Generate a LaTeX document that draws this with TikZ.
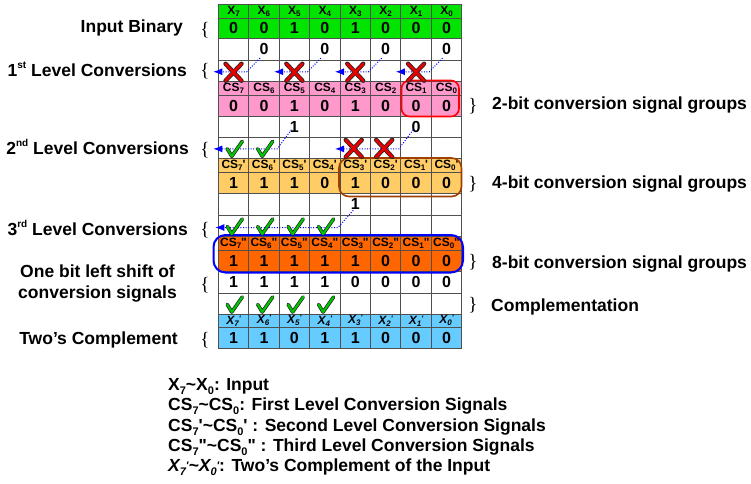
\documentclass[tikz,border=0pt]{standalone}
\usepackage{fontspec}
\usetikzlibrary{arrows.meta,calc}
\newfontfamily\af{Liberation Sans}
\newfontfamily\brfam{Liberation Serif}
\definecolor{cgreen}{RGB}{0,228,0}
\definecolor{cpink}{RGB}{255,153,204}
\definecolor{clorange}{RGB}{255,204,102}
\definecolor{corange}{RGB}{255,102,0}
\definecolor{cblue}{RGB}{102,204,255}
\definecolor{cbrown}{RGB}{160,64,0}
\definecolor{cgrid}{RGB}{80,80,80}
\definecolor{carrow}{RGB}{0,0,255}
\definecolor{ccheck}{RGB}{0,200,0}
\definecolor{cx}{RGB}{230,0,0}
\newcommand\valfont{\af\bfseries\fontsize{16}{16}\selectfont}
\newcommand\labfont{\af\bfseries\fontsize{12}{12}\selectfont}
\newcommand\bigfont{\af\bfseries\fontsize{17.5}{17.5}\selectfont}
\newcommand\brfont{\brfam\fontsize{19}{19}\selectfont}
\newcommand\sbc[1]{\raisebox{-2pt}{\fontsize{8}{8}\selectfont #1}}
\newcommand\sbl[1]{\raisebox{-4pt}{\fontsize{11}{11}\selectfont #1}}
\newcommand\supord[1]{\raisebox{7.5pt}{\fontsize{10}{10}\selectfont #1}}
\newcommand\csl[1]{CS\sbc{#1}}
\newcommand\csp[1]{CS\sbc{#1}'}
\newcommand\cspp[1]{CS\sbc{#1}"}
\newcommand\xlab[1]{X\sbc{#1}}
\newcommand\xplab[1]{\itshape X\sbc{#1}\raisebox{3pt}{\fontsize{8}{8}\selectfont '}}
\newcommand\cellrow[6]{%
  \foreach \t [count=\c from 0] in {#6} {%
    \node[cell, fill=#4, minimum height=#3pt, font=#5] (r#1c\c) at ({218.3+30.43*\c}, #2) {\t};
  }%
}
\begin{document}
\begin{tikzpicture}[x=1pt,y=-1pt,
  cell/.style={draw=cgrid, line width=0.8pt, inner sep=0pt, outer sep=0pt,
    minimum width=30.43pt, anchor=north west},
  lab/.style={font=\bigfont, inner sep=0pt},
  brace/.style={font=\brfont, inner sep=0pt},
  conv/.style={carrow, line width=1pt, dash pattern=on 1pt off 1.6pt,
    -{Latex[length=9pt,width=7pt]}},
  checkmark/.pic={
    \draw[line width=3.6pt, black!85, line cap=round, line join=round]
      (9,-9.5) -- (13.5,-2) -- (24,-17);
    \draw[line width=2.1pt, ccheck, line cap=round, line join=round]
      (9,-9.5) -- (13.5,-2) -- (24,-17);
  },
  xmark/.pic={
    \draw[line width=4.4pt, black!85, line cap=round]
      (-8,-7) -- (8,10) (8,-7) -- (-8,10);
    \draw[line width=2.8pt, cx, line cap=round]
      (-8,-7) -- (8,10) (8,-7) -- (-8,10);
  }]
\path[use as bounding box] (0,0) rectangle (751,483);

% ---------- grid ----------
\cellrow{0}{4}{14.3}{cgreen}{\labfont}{\xlab{7},\xlab{6},\xlab{5},\xlab{4},\xlab{3},\xlab{2},\xlab{1},\xlab{0}}
\cellrow{1}{18.3}{20}{cgreen}{\valfont}{0,0,1,0,1,0,0,0}
\cellrow{2}{38.3}{21.7}{white}{\valfont}{{},0,{},0,{},0,{},0}
\cellrow{3}{60}{21.5}{white}{\valfont}{{},{},{},{},{},{},{},{}}
\cellrow{4}{81.5}{13.5}{cpink}{\labfont}{\csl{7},\csl{6},\csl{5},\csl{4},\csl{3},\csl{2},\csl{1},\csl{0}}
\cellrow{5}{95}{21}{cpink}{\valfont}{0,0,1,0,1,0,0,0}
\cellrow{6}{116}{21.5}{white}{\valfont}{{},{},1,{},{},{},0,{}}
\cellrow{7}{137.5}{20.8}{white}{\valfont}{{},{},{},{},{},{},{},{}}
\cellrow{8}{158.3}{13.7}{clorange}{\labfont}{\csp{7},\csp{6},\csp{5},\csp{4},\csp{3},\csp{2},\csp{1},\csp{0}}
\cellrow{9}{172}{21.5}{clorange}{\valfont}{1,1,1,0,1,0,0,0}
\cellrow{10}{193.5}{21.5}{white}{\valfont}{{},{},{},{},1,{},{},{}}
\cellrow{11}{215}{21}{white}{\valfont}{{},{},{},{},{},{},{},{}}
\cellrow{12}{236}{14}{corange}{\labfont}{\cspp{7},\cspp{6},\cspp{5},\cspp{4},\cspp{3},\cspp{2},\cspp{1},\cspp{0}}
\cellrow{13}{250}{21}{corange}{\valfont}{1,1,1,1,1,0,0,0}
\cellrow{14}{271}{22}{white}{\valfont}{1,1,1,1,0,0,0,0}
\cellrow{15}{293}{21}{white}{\valfont}{{},{},{},{},{},{},{},{}}
\cellrow{16}{314}{13.5}{cblue}{\labfont}{\xplab{7},\xplab{6},\xplab{5},\xplab{4},\xplab{3},\xplab{2},\xplab{1},\xplab{0}}
\cellrow{17}{327.5}{20.5}{cblue}{\valfont}{1,1,0,1,1,0,0,0}

% ---------- group outlines ----------
\draw[red, line width=1.6pt, rounded corners=8pt] (401.5,80.5) rectangle (459,116.5);
\draw[cbrown, line width=1.6pt, rounded corners=10pt] (339,158) rectangle (461.5,196.5);
\draw[blue, line width=2pt, rounded corners=12pt] (213.5,235) rectangle (463,272.5);

% ---------- conversion arrows ----------
\foreach \k/\s/\d in {0/1/0,1/3/2,2/5/4,3/7/6} {
  \coordinate (as\k) at ($(r2c\s.center)+(-4,9)$);
  \coordinate (ac\k) at ($(r3c\s.west)+(-2,1)$);
  \coordinate (at\k) at ($(r3c\d.west)+(-5,1)$);
  \draw[conv] (as\k) -- (ac\k) -- (at\k);
}
\coordinate (bs0) at ($(r6c2.center)+(-3,3)$);
\coordinate (bc0) at ($(r7c2.west)+(-2,1)$);
\coordinate (bt0) at ($(r7c0.west)+(-5,1)$);
\draw[conv] (bs0) -- (bc0) -- (bt0);
\coordinate (bs1) at ($(r6c6.center)+(-3,3)$);
\coordinate (bc1) at ($(r7c6.west)+(-2,1)$);
\coordinate (bt1) at ($(r7c4.west)+(-5,1)$);
\draw[conv] (bs1) -- (bc1) -- (bt1);
\coordinate (cs0) at ($(r10c4.center)+(-2,6)$);
\coordinate (cc0) at ($(r11c4.west)+(-2,2)$);
\coordinate (ct0) at ($(r11c0.west)+(-3,2)$);
\draw[conv] (cs0) -- (cc0) -- (ct0);

% ---------- marks ----------
\foreach \c in {0,2,4,6} { \pic at (r3c\c.center) {xmark}; }
\foreach \c in {4,5} { \pic at ($(r7c\c.center)+(-1.5,-1)$) {xmark}; }
\foreach \c in {0,1} { \pic at (r7c\c.south west) {checkmark}; }
\foreach \c in {0,1,2,3} { \pic at (r11c\c.south west) {checkmark}; }
\foreach \c in {0,1,2,3} { \pic at (r15c\c.south west) {checkmark}; }

% ---------- left labels ----------
\node[lab, anchor=base east] (lin) at (183,32.3) {Input Binary};
\node[lab, anchor=base east] (lv1) at (187,76) {1\supord{st} Level Conversions};
\node[lab, anchor=base east] (lv2) at (189,154) {2\supord{nd} Level Conversions};
\node[lab, anchor=base east] (lv3) at (188,235) {3\supord{rd} Level Conversions};
\node[lab, anchor=base] (lsh1) at (97.5,277) {One bit left shift of};
\node[lab, anchor=base] (lsh2) at (97.5,298) {conversion signals};
\node[lab, anchor=base east] (ltc) at (178,344) {Two’s Complement};

\node[brace] (bl1) at (205,30) {\{};
\node[brace] (bl2) at (205,71.5) {\{};
\node[brace] (bl3) at (205,150) {\{};
\node[brace] (bl4) at (205,230) {\{};
\node[brace] (bl5) at (205,285) {\{};
\node[brace] (bl6) at (205,340) {\{};

% ---------- right labels ----------
\node[brace] (br1) at (473,106) {\}};
\node[brace] (br2) at (473,184) {\}};
\node[brace] (br3) at (473,262.5) {\}};
\node[brace] (br4) at (473,305) {\}};
\node[lab, anchor=base west] (rg2) at (492,109.3) {2-bit conversion signal groups};
\node[lab, anchor=base west] (rg4) at (492,188.3) {4-bit conversion signal groups};
\node[lab, anchor=base west] (rg8) at (492,268.3) {8-bit conversion signal groups};
\node[lab, anchor=base west] (rcp) at (491,311) {Complementation};

% ---------- legend ----------
\node[lab, anchor=base west] (lg1) at (168,390.5) {X\sbl{7}\textasciitilde X\sbl{0}: Input};
\node[lab, anchor=base west] (lg2) at (168,410.8) {CS\sbl{7}\textasciitilde CS\sbl{0}: First Level Conversion Signals};
\node[lab, anchor=base west] (lg3) at (168,431) {CS\sbl{7}'\textasciitilde CS\sbl{0}' : Second Level Conversion Signals};
\node[lab, anchor=base west] (lg4) at (168,451.3) {CS\sbl{7}"\textasciitilde CS\sbl{0}" : Third Level Conversion Signals};
\node[lab, anchor=base west] (lg5) at (168,471.6) {\itshape X\sbl{7}\raisebox{2pt}{\fontsize{11}{11}\selectfont '}\textasciitilde X\sbl{0}\raisebox{2pt}{\fontsize{11}{11}\selectfont '}\upshape: Two’s Complement of the Input};
\end{tikzpicture}
\end{document}
